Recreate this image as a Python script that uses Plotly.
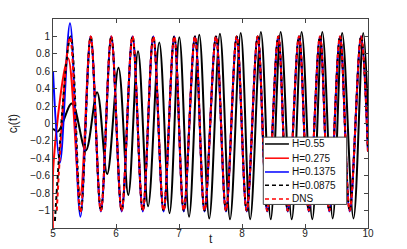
import plotly.graph_objects as go

# Extrema (peaks / troughs); the library's spline draws the curves.
t_h055 = [5.0, 5.08, 5.30, 5.52, 5.70, 5.86, 6.04, 6.195, 6.35, 6.51, 6.687, 6.85, 7.005, 7.16,
          7.322, 7.48, 7.65, 7.81, 7.98, 8.13, 8.30, 8.456, 8.614, 8.79, 8.947, 9.116, 9.275,
          9.44, 9.59, 9.77, 9.925, 10.0]
c_h055 = [-0.06, -0.09, 0.23, -0.31, 0.36, -0.58, 0.64, -0.82, 0.83, -0.95, 0.93, -1.03, 0.99, -1.07,
          1.02, -1.09, 1.03, -1.10, 1.04, -1.10, 1.05, -1.10, 1.05, -1.10, 1.05, -1.10, 1.05,
          -1.09, 1.04, -1.09, 1.04, 0.1]

t_h0275 = [5.0, 5.012, 5.24, 5.43, 5.598, 5.76, 5.925, 6.09, 6.262, 6.425, 6.592, 6.755, 6.925,
           7.075, 7.254, 7.405, 7.587, 7.746, 7.916, 8.075, 8.249, 8.40, 8.576, 8.725, 8.905,
           9.06, 9.238, 9.385, 9.556, 9.71, 9.889, 10.0]
c_h0275 = [-1.25, -0.42, 0.75, -0.82, 1.0, -1.0, 1.0, -1.0, 1.0, -1.0, 1.0, -1.0, 1.0,
           -1.0, 1.0, -1.0, 1.0, -1.0, 1.0, -1.0, 1.0, -1.0, 1.0, -1.0, 1.0,
           -1.0, 1.0, -1.0, 1.0, -1.0, 1.0, -0.32]

t_h01375 = [5.0, 5.11, 5.27, 5.435, 5.598, 5.76, 5.925, 6.09, 6.262, 6.425, 6.592, 6.755, 6.925,
            7.075, 7.254, 7.405, 7.587, 7.746, 7.916, 8.075, 8.249, 8.40, 8.576, 8.725, 8.905,
            9.06, 9.238, 9.385, 9.556, 9.71, 9.889, 10.0]
c_h01375 = [0.6, -0.45, 1.15, -1.07, 1.0, -1.01, 1.0, -1.01, 1.0, -1.01, 1.0, -1.01, 1.0,
            -1.01, 1.0, -1.01, 1.0, -1.01, 1.0, -1.01, 1.0, -1.01, 1.0, -1.01, 1.0,
            -1.01, 1.0, -1.01, 1.0, -1.01, 1.0, -0.32]

t_h00875 = [5.03, 5.28, 5.44, 5.598, 5.76, 5.925, 6.09, 6.262, 6.425, 6.592, 6.755, 6.925,
            7.075, 7.254, 7.405, 7.587, 7.746, 7.916, 8.075, 8.249, 8.40, 8.576, 8.725, 8.905,
            9.06, 9.238, 9.385, 9.556, 9.71, 9.889, 10.0]
c_h00875 = [-1.12, 1.0, -1.02, 1.0, -1.0, 1.0, -1.0, 1.0, -1.0, 1.0, -1.0, 1.0,
            -1.0, 1.0, -1.0, 1.0, -1.0, 1.0, -1.0, 1.0, -1.0, 1.0, -1.0, 1.0,
            -1.0, 1.0, -1.0, 1.0, -1.0, 1.0, -0.32]

t_dns = [5.06, 5.27, 5.435, 5.598, 5.76, 5.925, 6.09, 6.262, 6.425, 6.592, 6.755, 6.925,
         7.075, 7.254, 7.405, 7.587, 7.746, 7.916, 8.075, 8.249, 8.40, 8.576, 8.725, 8.905,
         9.06, 9.238, 9.385, 9.556, 9.71, 9.889, 10.0]
c_dns = [-1.0, 0.99, -1.02, 1.0, -1.0, 1.0, -1.0, 1.0, -1.0, 1.0, -1.0, 1.0,
         -1.0, 1.0, -1.0, 1.0, -1.0, 1.0, -1.0, 1.0, -1.0, 1.0, -1.0, 1.0,
         -1.0, 1.0, -1.0, 1.0, -1.0, 1.0, -0.32]

x_ticks = [5, 6, 7, 8, 9, 10]
y_ticks = [-1, -0.8, -0.6, -0.4, -0.2, 0, 0.2, 0.4, 0.6, 0.8, 1]

series = [
    ("H=0.55", t_h055, c_h055, "black", "solid"),
    ("H=0.275", t_h0275, c_h0275, "red", "solid"),
    ("H=0.1375", t_h01375, c_h01375, "blue", "solid"),
    ("H=0.0875", t_h00875, c_h00875, "black", "4px,3px"),
    ("DNS", t_dns, c_dns, "red", "4px,3px"),
]

FONT = "Liberation Sans, Arial, sans-serif"

fig = go.Figure()
for name, t, c, col, dash in series:
    fig.add_trace(go.Scatter(
        x=t, y=c, mode="lines", name=name, showlegend=False,
        line=dict(color=col, width=2, dash=dash, shape="spline", smoothing=1.0),
    ))

axis_common = dict(
    showline=True, mirror="ticks", ticks="inside", ticklen=4, tickwidth=1,
    linecolor="#444", tickcolor="#444", linewidth=1, showgrid=False, zeroline=False,
    tickfont=dict(family=FONT, size=10, color="#222"),
)

# Custom compact legend (box, sample lines, labels) in plot-area paper coords
shapes = [dict(type="rect", xref="paper", yref="paper", x0=0.6676, x1=0.9324,
               y0=0.1127, y1=0.4348, line=dict(color="#444", width=1),
               fillcolor="white", layer="above")]
annotations = []
legend_y = [0.402, 0.334, 0.268, 0.204, 0.139]
for (name, _, _, col, dash), ly in zip(series, legend_y):
    shapes.append(dict(type="line", xref="paper", yref="paper", x0=0.673, x1=0.749,
                       y0=ly, y1=ly, line=dict(color=col, width=1.5, dash=dash),
                       layer="above"))
    annotations.append(dict(text=name, xref="paper", yref="paper", x=0.753, y=ly,
                            xanchor="left", yanchor="middle", showarrow=False,
                            font=dict(family=FONT, size=10, color="#111")))

annotations += [
    dict(text="t", xref="paper", yref="paper", x=0.5, y=-0.052, yanchor="middle",
         showarrow=False, font=dict(family=FONT, size=12, color="#222")),
    dict(text="c<sub>l</sub>(t)", xref="paper", yref="paper", x=-0.125, y=0.5,
         xanchor="center", yanchor="middle", textangle=-90,
         showarrow=False, font=dict(family=FONT, size=12, color="#222")),
]

# The page body has an 8px default margin, so the figure is drawn 8px smaller
fig.update_layout(
    width=399, height=241,
    margin=dict(l=45, r=39, t=10, b=19),
    plot_bgcolor="white", paper_bgcolor="white",
    font=dict(family=FONT, color="#222"),
    xaxis=dict(range=[5, 10], tickvals=x_ticks, ticktext=[str(v) for v in x_ticks],
               ticklabelstandoff=-4, **axis_common),
    yaxis=dict(range=[-1.2, 1.2], tickvals=y_ticks,
               ticktext=[("0" if v == 0 else str(v).replace("-", "\u2212")) for v in y_ticks],
               **axis_common),
    showlegend=False,
    shapes=shapes,
    annotations=annotations,
)

fig.write_html("out.html")
